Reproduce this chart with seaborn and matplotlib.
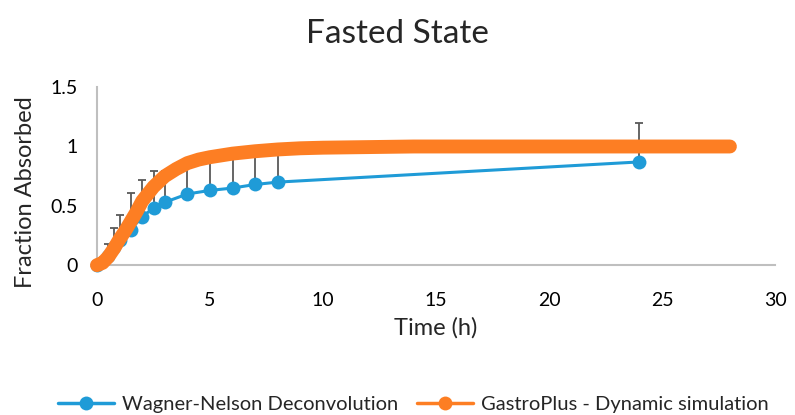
import numpy as np
import pandas as pd
import matplotlib
matplotlib.use("Agg")
import matplotlib.pyplot as plt
import seaborn as sns
from matplotlib.lines import Line2D

# Data
wn_time = [0, 0.5, 0.75, 1, 1.5, 2, 2.5, 3, 4, 5, 6, 7, 8, 24]
wn_frac = [0, 0.08, 0.15, 0.21, 0.30, 0.41, 0.48, 0.53, 0.60, 0.63, 0.65, 0.68, 0.70, 0.87]
wn_err_up = [0, 0.10, 0.16, 0.21, 0.31, 0.31, 0.31, 0.26, 0.28, 0.28, 0.28, 0.27, 0.26, 0.33]

gp_time = [0, 0.25, 0.5, 0.75, 1, 1.25, 1.5, 1.75, 2, 2.5, 3, 3.5, 4, 4.5, 5, 6, 7, 8, 9, 10,
           12, 14, 16, 18, 20, 22, 24, 26, 28]
gp_frac = [0, 0.02, 0.07, 0.14, 0.22, 0.29, 0.37, 0.45, 0.54, 0.66, 0.75, 0.81, 0.86, 0.89, 0.91,
           0.94, 0.96, 0.975, 0.985, 0.99, 0.995, 1.0, 1.0, 1.0, 1.0, 1.0, 1.0, 1.0, 1.0]

title = "Fasted State"
xlabel = "Time (h)"
ylabel = "Fraction Absorbed"
series_names = ["Wagner-Nelson Deconvolution", "GastroPlus - Dynamic simulation"]

blue = "#1f9bd7"
orange = "#fd7e23"
grey = "#595959"

sns.set_style("white")
plt.rcParams['font.family'] = ['Lato', 'DejaVu Sans']

fig = plt.figure(figsize=(7.95, 4.15), dpi=100)
ax = fig.add_axes([0.122, 0.361, 0.853, 0.429])

wn = pd.DataFrame({"t": wn_time, "f": wn_frac})
gp = pd.DataFrame({"t": gp_time, "f": gp_frac})

ax.errorbar(wn_time, wn_frac, yerr=[np.zeros(len(wn_err_up)), wn_err_up], fmt='none',
            ecolor=grey, elinewidth=1.3, capsize=2.8, capthick=1.3, zorder=1)
sns.lineplot(data=wn, x="t", y="f", ax=ax, color=blue, lw=2.2, marker='o', markersize=10,
             markeredgewidth=0, zorder=2, clip_on=False)
sns.lineplot(data=gp, x="t", y="f", ax=ax, color=orange, lw=10, solid_capstyle='round',
             solid_joinstyle='round', zorder=3, clip_on=False)

ax.set_xlim(0, 30)
ax.set_ylim(0, 1.5)
ax.set_xticks([0, 5, 10, 15, 20, 25, 30])
ax.set_yticks([0, 0.5, 1, 1.5])
ax.set_yticklabels(["0", "0.5", "1", "1.5"])
ax.tick_params(axis='x', length=0, labelsize=14, colors='#000000', pad=19)
ax.tick_params(axis='y', length=0, labelsize=14, colors='#000000', pad=14)
for s in ["top", "right"]:
    ax.spines[s].set_visible(False)
for s in ["left", "bottom"]:
    ax.spines[s].set_color("#bfbfbf")
    ax.spines[s].set_linewidth(1.5)
ax.set_xlabel(xlabel, fontsize=17, labelpad=6)
ax.set_ylabel(ylabel, fontsize=17)
ax.yaxis.set_label_coords(-0.09, 0.41)
fig.suptitle(title, fontsize=24, y=0.955)

handles = [Line2D([0], [0], color=blue, lw=2.5, marker='o', markersize=10, markeredgewidth=0),
           Line2D([0], [0], color=orange, lw=2.5, marker='o', markersize=10, markeredgewidth=0)]
fig.legend(handles, series_names, loc='lower center', bbox_to_anchor=(0.52, -0.04), ncol=2,
           frameon=False, fontsize=14.5, handlelength=2.8, columnspacing=0.9, handletextpad=0.4)

fig.savefig("out.png", dpi=100)
